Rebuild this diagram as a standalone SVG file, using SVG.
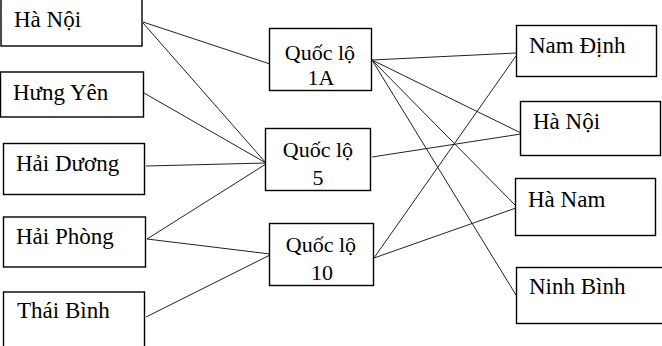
<svg xmlns="http://www.w3.org/2000/svg" width="662" height="346" viewBox="0 0 662 346">
<style>
.box{fill:#fff;stroke:#000;stroke-width:1.4}
.t{font-family:"Liberation Serif","Times New Roman",serif;font-size:23px;fill:#000}
.m{font-size:22px;text-anchor:middle}
.ln{stroke:#222;stroke-width:1;fill:none}
</style>
<rect width="662" height="346" fill="#fff"/>
<g id="connectors">
<line class="ln" x1="143" y1="22" x2="270" y2="64"/>
<line class="ln" x1="143" y1="23" x2="266" y2="163"/>
<line class="ln" x1="144" y1="93" x2="266" y2="163"/>
<line class="ln" x1="146" y1="166" x2="266" y2="163"/>
<line class="ln" x1="147" y1="239" x2="266" y2="164"/>
<line class="ln" x1="147" y1="239" x2="270" y2="254"/>
<line class="ln" x1="146" y1="317" x2="270" y2="255"/>
<line class="ln" x1="372" y1="60" x2="516" y2="53"/>
<line class="ln" x1="372" y1="60" x2="521" y2="133"/>
<line class="ln" x1="372" y1="60" x2="515" y2="205"/>
<line class="ln" x1="372" y1="60" x2="516" y2="295"/>
<line class="ln" x1="372" y1="157" x2="521" y2="134"/>
<line class="ln" x1="374" y1="258" x2="516" y2="56"/>
<line class="ln" x1="374" y1="258" x2="516" y2="208"/>
</g>
<g id="n-hanoi-l"><rect class="box" x="1" y="-1" width="141" height="47"/><text class="t" x="14" y="27">Hà Nội</text></g>
<g id="n-hungyen"><rect class="box" x="0.5" y="72" width="143" height="45"/><text class="t" x="13" y="100">Hưng Yên</text></g>
<g id="n-haiduong"><rect class="box" x="3.5" y="143.5" width="141" height="51"/><text class="t" x="16" y="171">Hải Dương</text></g>
<g id="n-haiphong"><rect class="box" x="3.5" y="217" width="142" height="50"/><text class="t" x="16" y="244">Hải Phòng</text></g>
<g id="n-thaibinh"><rect class="box" x="3.5" y="292" width="141" height="60"/><text class="t" x="17" y="318">Thái Bình</text></g>
<g id="n-ql1a"><rect class="box" x="269.5" y="28.5" width="102" height="62"/><text class="t m" x="320" y="60">Quốc lộ</text><text class="t m" x="321" y="85">1A</text></g>
<g id="n-ql5"><rect class="box" x="265.5" y="128.5" width="105" height="62"/><text class="t m" x="318" y="157">Quốc lộ</text><text class="t m" x="318" y="185">5</text></g>
<g id="n-ql10"><rect class="box" x="269.5" y="223.5" width="104" height="62"/><text class="t m" x="321" y="252">Quốc lộ</text><text class="t m" x="322" y="280">10</text></g>
<g id="n-namdinh"><rect class="box" x="516.5" y="25.5" width="140" height="51"/><text class="t" x="529" y="53">Nam Định</text></g>
<g id="n-hanoi-r"><rect class="box" x="520.5" y="101.5" width="140" height="54"/><text class="t" x="533" y="129">Hà Nội</text></g>
<g id="n-hanam"><rect class="box" x="515.5" y="178.5" width="140" height="57"/><text class="t" x="528" y="207">Hà Nam</text></g>
<g id="n-ninhbinh"><rect class="box" x="516.5" y="267.5" width="150" height="56"/><text class="t" x="529" y="294">Ninh Bình</text></g>
</svg>
